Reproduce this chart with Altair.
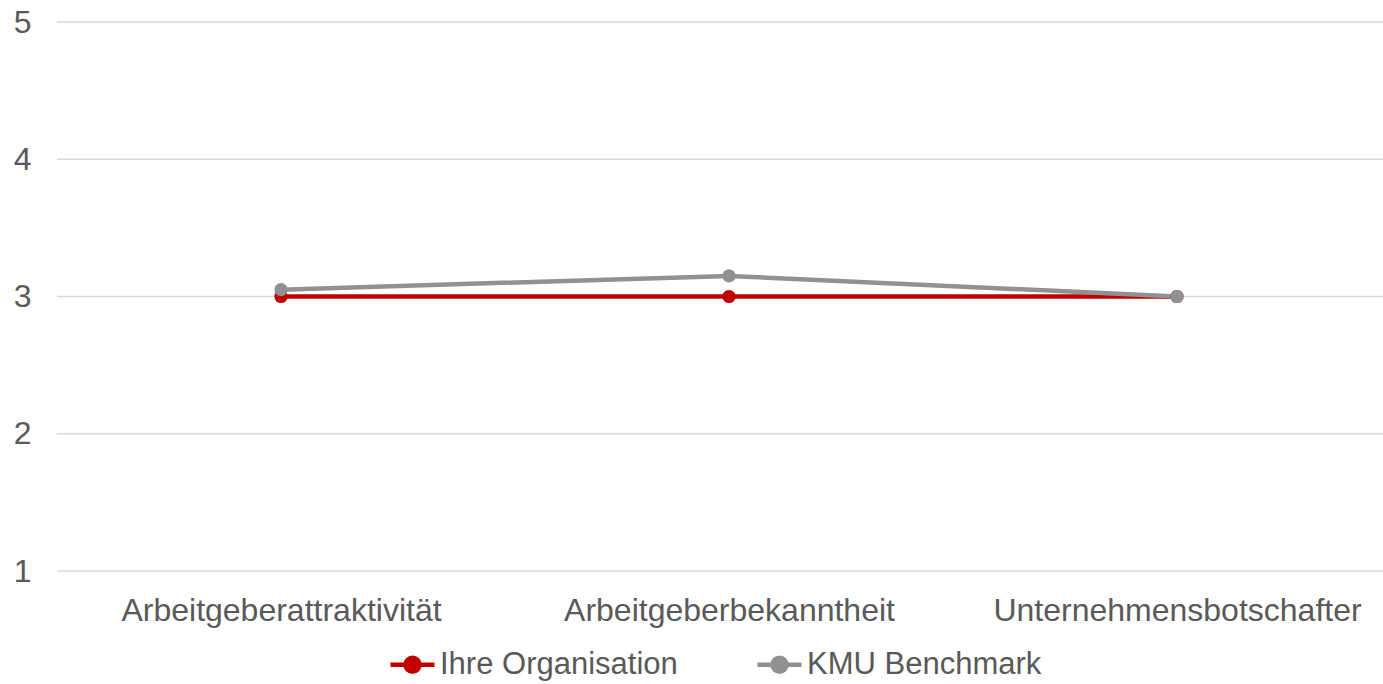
import altair as alt
import pandas as pd

categories = ["Arbeitgeberattraktivität", "Arbeitgeberbekanntheit", "Unternehmensbotschafter"]
series_names = ["Ihre Organisation", "KMU Benchmark"]
ihre_org = [3.0, 3.0, 3.0]
kmu_bench = [3.05, 3.15, 3.0]
colors = ["#C00000", "#919191"]
y_ticks = [1, 2, 3, 4, 5]

rows = []
for name, vals in zip(series_names, [ihre_org, kmu_bench]):
    for c, v in zip(categories, vals):
        rows.append({"Kategorie": c, "Wert": v, "Serie": name})
df = pd.DataFrame(rows)
grid_df = pd.DataFrame({"Wert": y_ticks})

FONT = "Liberation Sans"
TXT = "#595959"
FS = 32

sym = "M-1,0L1,0M-0.32,0A0.32,0.32 0 1,0 0.32,0A0.32,0.32 0 1,0 -0.32,0Z"

yscale = alt.Scale(domain=[1, 5], nice=False, zero=False)

x = alt.X("Kategorie:N", sort=categories, title=None,
          scale=alt.Scale(type="point", padding=0, range=[224, 1120]),
          axis=alt.Axis(labelAngle=0, labelFontSize=FS, labelColor=TXT, labelFont=FONT,
                        labelLimit=0, labelPadding=24, ticks=False, domain=False, grid=False))
y = alt.Y("Wert:Q", title=None, scale=yscale,
          axis=alt.Axis(values=y_ticks, labelFontSize=FS, labelColor=TXT, labelFont=FONT,
                        labelPadding=26, ticks=False, domain=False, grid=False))
color = alt.Color("Serie:N", scale=alt.Scale(domain=series_names, range=colors),
                  legend=alt.Legend(
                      title=None, orient="none", direction="horizontal",
                      legendX=331, legendY=618,
                      symbolType=sym, symbolSize=1936, symbolStrokeWidth=4.5,
                      symbolOpacity=1, labelLimit=0,
                      labelFontSize=31, labelColor=TXT, labelFont=FONT, labelOffset=3,
                      columnPadding=70))

grid = alt.Chart(grid_df).mark_rule(color="#D9D9D9", strokeWidth=1.5).encode(
    y=y, x=alt.value(0), x2=alt.value(1326))

base = alt.Chart(df).encode(x=x, y=y, color=color, order=alt.Order("Serie:N"))
lines = base.mark_line(strokeWidth=4.5)
points = base.mark_circle(size=175, opacity=1)

chart = alt.layer(grid, lines, points).properties(
    width=1326, height=549,
    background="white",
    autosize=alt.AutoSizeParams(type="none"),
    padding={"left": 57, "top": 22, "right": 0, "bottom": 113},
).configure_view(strokeWidth=0, stroke="transparent")

chart.save("out.html", embed_options={"renderer": "svg", "actions": False})
